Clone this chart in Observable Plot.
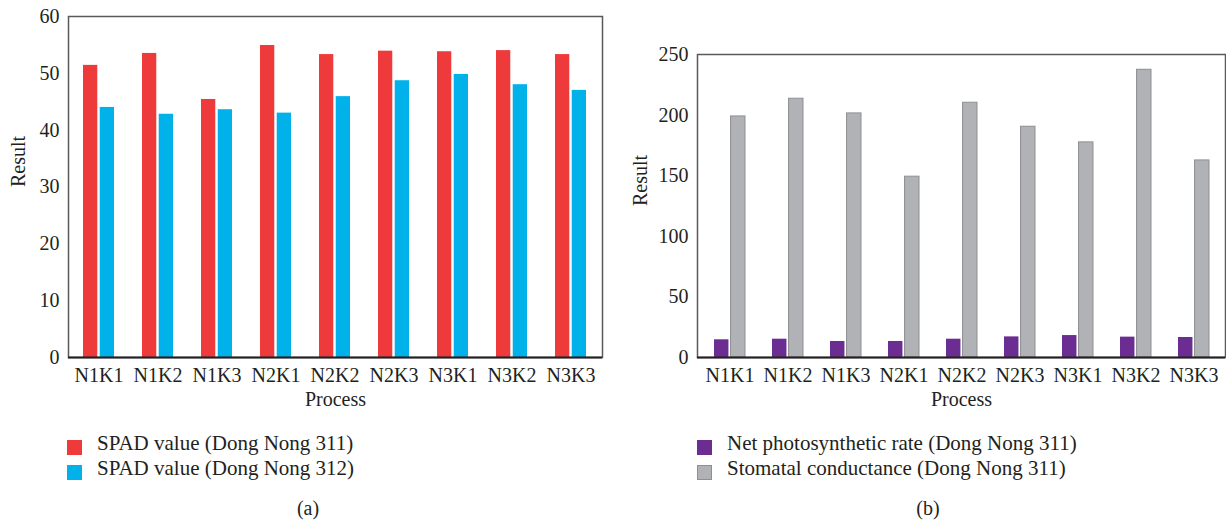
<!DOCTYPE html>
<html><head><meta charset="utf-8">
<script src="https://cdn.jsdelivr.net/npm/d3@7"></script>
<script src="https://cdn.jsdelivr.net/npm/@observablehq/plot@0.6"></script>
<style>
body{margin:0;background:#fff;}
#root{position:relative;width:1226px;height:522px;overflow:hidden;font-family:"Liberation Serif",serif;color:#231f20;}
.panel{position:absolute;top:0;}
.leg{position:absolute;font-size:21px;line-height:21px;white-space:nowrap;}
.sw{position:absolute;width:15px;height:15px;}
.cap{position:absolute;font-size:20px;transform:translateX(-50%);}
</style></head><body><div id="root"></div>
<script>
const processes = ["N1K1","N1K2","N1K3","N2K1","N2K2","N2K3","N3K1","N3K2","N3K3"];
const spad311 = [51.4, 53.5, 45.4, 54.9, 53.3, 53.9, 53.8, 54.0, 53.3];
const spad312 = [44.0, 42.8, 43.6, 43.0, 45.9, 48.7, 49.8, 48.0, 47.0];
const netPhoto = [14.6, 15.1, 13.2, 13.2, 15.1, 17.0, 18.1, 16.8, 16.5];
const stomatal = [198.9, 213.5, 201.4, 149.2, 210.2, 190.4, 177.5, 237.4, 162.6];
const yTicksA = [0, 10, 20, 30, 40, 50, 60];
const yTicksB = [0, 50, 100, 150, 200, 250];
const seriesA = ["SPAD value (Dong Nong 311)", "SPAD value (Dong Nong 312)"];
const seriesB = ["Net photosynthetic rate (Dong Nong 311)", "Stomatal conductance (Dong Nong 311)"];
const colorsA = ["#ef3a3b", "#00b1ea"];
const colorsB = ["#6b2d91", "#b1b2b6"];
const strokesB = [null, "#8e8f93"];
const xLabel = "Process";
const yLabel = "Result";

function panel(o) {
  const W = 613, H = 420, mb = 63;
  const inner = W - o.ml - o.mr;
  const step = inner / processes.length;
  const bw = step * (1 - 0.47);
  const inset = bw / 2 + 1;
  const d1 = processes.map((p, i) => ({p, v: o.v1[i]}));
  const d2 = processes.map((p, i) => ({p, v: o.v2[i]}));
  return Plot.plot({
    width: W, height: H, marginLeft: o.ml, marginRight: o.mr, marginTop: o.mt, marginBottom: mb,
    style: {fontFamily: "Liberation Serif", fontSize: "20px", color: "#231f20", background: "transparent", overflow: "visible"},
    x: {domain: processes, paddingInner: 0.47, paddingOuter: 0.235, label: null},
    y: {domain: o.yDomain, label: null},
    marks: [
      Plot.barY(d1, {x: "p", y: "v", fill: o.colors[0], insetRight: inset, stroke: o.strokes ? o.strokes[0] : null}),
      Plot.barY(d2, {x: "p", y: "v", fill: o.colors[1], insetLeft: inset, stroke: o.strokes ? o.strokes[1] : null, strokeWidth: 1}),
      Plot.axisX({tickSize: 0, tickPadding: 10, label: null, fontFamily: "Liberation Serif"}),
      Plot.axisY({ticks: o.yTicks, tickSize: 0, tickPadding: 9, label: null, fontFamily: "Liberation Serif"}),
      Plot.frame({stroke: "#58595b", strokeWidth: 1.5}),
      Plot.ruleY([0], {stroke: "#231f20", strokeWidth: 2}),
      Plot.text([xLabel], {frameAnchor: "bottom", dy: 48, fontSize: 20, fill: "#231f20", fontFamily: "Liberation Serif"}),
      Plot.text([yLabel], {frameAnchor: "left", dx: o.ydx, rotate: -90, fontSize: 20, fill: "#231f20", fontFamily: "Liberation Serif"})
    ]
  });
}

const root = document.getElementById("root");
const a = panel({v1: spad311, v2: spad312, colors: colorsA, yDomain: [0, 60], yTicks: yTicksA, ml: 68, mr: 11, mt: 16, ydx: -50});
a.classList.add("panel"); a.style.left = "0px";
root.appendChild(a);
const b = panel({v1: netPhoto, v2: stomatal, colors: colorsB, strokes: strokesB, yDomain: [0, 250], yTicks: yTicksB, ml: 84, mr: 1, mt: 54, ydx: -57});
b.classList.add("panel"); b.style.left = "613px";
root.appendChild(b);

function legend(series, colors, strokes, x) {
  series.forEach((s, i) => {
    const y = 434 + i * 25;
    const sw = document.createElement("div");
    sw.className = "sw";
    sw.style.left = x + "px"; sw.style.top = (y + 6) + "px";
    sw.style.background = colors[i];
    if (strokes && strokes[i]) { sw.style.boxSizing = "border-box"; sw.style.border = "1.5px solid " + strokes[i]; }
    root.appendChild(sw);
    const t = document.createElement("div");
    t.className = "leg";
    t.style.left = (x + 30) + "px"; t.style.top = (y - 1) + "px";
    t.textContent = s;
    root.appendChild(t);
  });
}
legend(seriesA, colorsA, null, 67);
legend(seriesB, colorsB, strokesB, 697);

[["(a)", 308], ["(b)", 928]].forEach(([s, x]) => {
  const c = document.createElement("div");
  c.className = "cap"; c.textContent = s;
  c.style.left = x + "px"; c.style.top = "497px";
  root.appendChild(c);
});
</script></body></html>
